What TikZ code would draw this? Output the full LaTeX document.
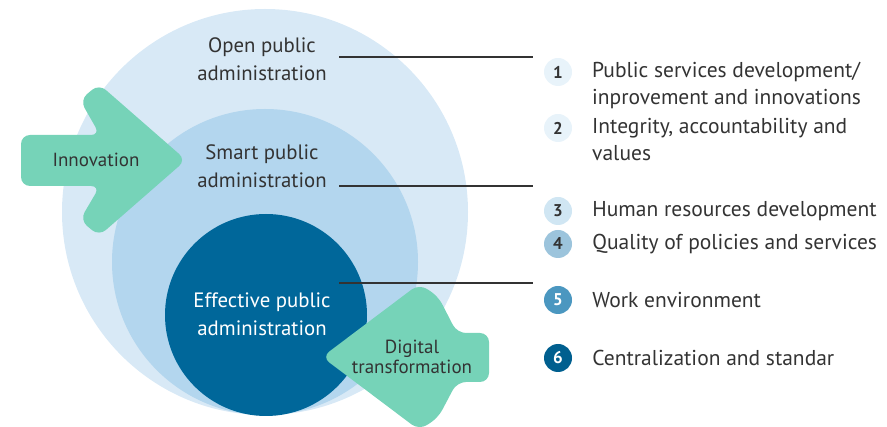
\documentclass[tikz,border=0pt]{standalone}
\usepackage{fontspec}
\setmainfont{PT Sans}
\usetikzlibrary{positioning}
\definecolor{outerblue}{HTML}{D8E9F6}
\definecolor{midblue}{HTML}{B3D6EE}
\definecolor{deepblue}{HTML}{00679A}
\definecolor{mint}{HTML}{76D3B8}
\definecolor{inkgray}{HTML}{333333}
\definecolor{dotA}{HTML}{E8F3FA}
\definecolor{dotB}{HTML}{D0E6F3}
\definecolor{dotC}{HTML}{9CC4DC}
\definecolor{dotD}{HTML}{4B97C0}
\definecolor{dotE}{HTML}{005F8F}
\tikzset{
  ring/.style={
    circle,
    inner sep=0pt,
    minimum size=#1},
  ringlabel/.style={
    align=center,
    text=inkgray,
    font=\fontsize{20.8}{28}\selectfont},
  numdot/.style={
    circle,
    inner sep=0pt,
    minimum size=28pt,
    text=inkgray,
    font=\bfseries\fontsize{17}{17}\selectfont},
  itemtext/.style={
    align=left,
    inner sep=0pt,
    text=inkgray,
    font=\fontsize{21.5}{27.5}\selectfont},
  leader/.style={draw=inkgray, line width=1.1pt},
  bigarrow/.style={fill=mint, rounded corners=9pt},
  arrowlabel/.style={align=center, text=inkgray, font=\fontsize{19}{20.5}\selectfont},
}
\begin{document}
\begin{tikzpicture}[x=1pt, y=-1pt]
    \useasboundingbox (0,0) rectangle (887,427);

    % the three rings
    \node [ring=406pt, fill=outerblue](open) at (265,212) {};
    \node [ring=306pt, fill=midblue](smart) at (265,262) {};
    \node [ring=202pt, fill=deepblue](effective) at (266,315) {};

    \node [ringlabel](openlbl) at (262,59) {Open public\\administration};
    \node [ringlabel](smartlbl) at (262,166) {Smart public\\administration};
    \node [ringlabel, text=white](efflbl) at (262,314) {Effective public\\administration};

    % leader lines
    \coordinate (open-a) at (339,57);   \coordinate (open-b) at (533,57);
    \coordinate (smart-a) at (339,186); \coordinate (smart-b) at (533,186);
    \coordinate (eff-a) at (339,283);   \coordinate (eff-b) at (533,283);
    \draw[leader] (open-a) -- (open-b);
    \draw[leader] (smart-a) -- (smart-b);
    \draw[leader] (eff-a) -- (eff-b);

    % arrows
    \fill[bigarrow] (21,135) -- (100,135) -- (80,100) -- (99,84) -- (186,160)
                    -- (99,236) -- (80,220) -- (100,186) -- (21,186) -- cycle;
    \node [arrowlabel](innov) at (96,160) {Innovation};

    \fill[bigarrow] (489,333) -- (457,333) -- (438,296) -- (419,284) -- (322,357)
                    -- (419,430) -- (438,418) -- (457,382) -- (489,382) -- cycle;
    \node [arrowlabel](digital) at (412,357) {Digital\\transformation};

    % numbered list
    \node [numdot, fill=dotA](n1) at (558,72) {1};
    \node [numdot, fill=dotA](n2) at (558,128) {2};
    \node [numdot, fill=dotB](n3) at (558,211) {3};
    \node [numdot, fill=dotC](n4) at (558,244) {4};
    \node [numdot, fill=dotD, text=white](n5) at (558,300) {5};
    \node [numdot, fill=dotE, text=white](n6) at (558,358) {6};

    \node [itemtext, anchor=base west](t1) at (592,105) {Public services development/\\inprovement and innovations};
    \node [itemtext, anchor=base west](t2) at (592,161) {Integrity, accountability and\\values};
    \node [itemtext, right=20pt of n3](t3) {Human resources development};
    \node [itemtext, right=20pt of n4](t4) {Quality of policies and services};
    \node [itemtext, right=20pt of n5](t5) {Work environment};
    \node [itemtext, right=20pt of n6](t6) {Centralization and standar};

\end{tikzpicture}
\end{document}
